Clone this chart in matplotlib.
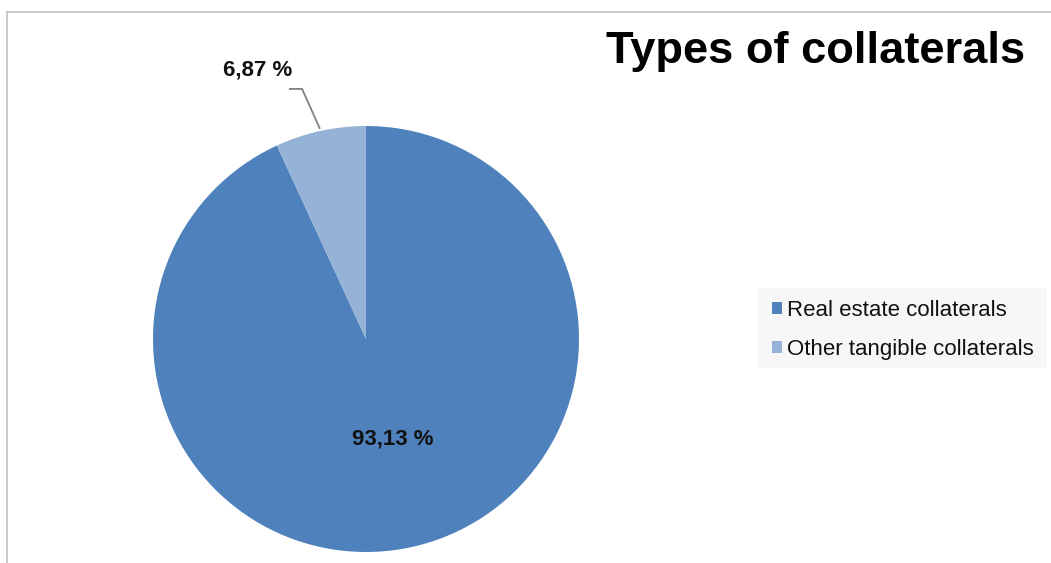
import numpy as np
import matplotlib
matplotlib.use("Agg")
import matplotlib.pyplot as plt
from matplotlib.patches import Patch, Rectangle
from matplotlib.lines import Line2D

# data
categories = ["Real estate collaterals", "Other tangible collaterals"]
shares = [93.13, 6.87]
share_labels = ["93,13 %", "6,87 %"]
colors = ["#4F81BD", "#95B3D7"]

plt.rcParams["font.family"] = ["Liberation Sans", "DejaVu Sans"]

W, H = 1051, 563
fig = plt.figure(figsize=(W / 100, H / 100), dpi=100)

# pie centred at (366, 339) px, radius 213 px
cx, cy, r = 366, 339, 213
ax = fig.add_axes([(cx - r) / W, (H - cy - r) / H, 2 * r / W, 2 * r / H])
wedges, _ = ax.pie(shares, colors=colors, startangle=90, counterclock=False,
                   wedgeprops=dict(linewidth=0))
ax.set_xlim(-1, 1)
ax.set_ylim(-1, 1)
ax.set_aspect("equal")
ax.axis("off")

# big slice label inside
w = wedges[0]
mid = np.deg2rad((w.theta1 + w.theta2) / 2)
ax.text(0.48 * np.cos(mid) + 0.024, 0.48 * np.sin(mid), share_labels[0],
        ha="center", va="center", fontsize=16, fontweight="bold", color="#111111")

# small slice label outside with leader line
w = wedges[1]
mid = np.deg2rad((w.theta1 + w.theta2) / 2)
ex, ey = 1.01 * np.cos(mid), 1.01 * np.sin(mid)
ax.plot([ex, -0.30, -0.362], [ey, 1.174, 1.174], color="#808080", lw=1.3,
        clip_on=False, solid_capstyle="butt")
ax.text(-0.507, 1.263, share_labels[1], ha="center", va="center",
        fontsize=16, fontweight="bold", color="#111111", clip_on=False)

# title
fig.text(1025 / W, 1 - 63 / H, "Types of collaterals", ha="right",
         va="baseline", fontsize=32.6, fontweight="bold", color="black")

# legend background
fig.add_artist(Rectangle((758 / W, 1 - 368 / H), 289 / W, 80 / H,
                         transform=fig.transFigure, facecolor="#f7f7f7",
                         edgecolor="none", zorder=0))

# legend
handles = [Patch(facecolor=c, edgecolor="none") for c in colors]
leg = fig.legend(handles, categories, loc="upper left",
                 bbox_to_anchor=(772 / W, 1 - 299.5 / H), fontsize=16,
                 frameon=False, handlelength=0.45, handleheight=0.45,
                 handletextpad=0.22, borderpad=0, labelspacing=0.82,
                 borderaxespad=0)
leg.set_zorder(2)
for t in leg.get_texts():
    t.set_color("#111111")

# chart frame (left and top edges visible)
fig.add_artist(Line2D([7 / W, 7 / W], [0, 1 - 12 / H], color="#c0c0c0", lw=1.2))
fig.add_artist(Line2D([7 / W, 1], [1 - 12 / H, 1 - 12 / H], color="#c0c0c0", lw=1.2))

fig.savefig("out.png", dpi=100, facecolor="white")
